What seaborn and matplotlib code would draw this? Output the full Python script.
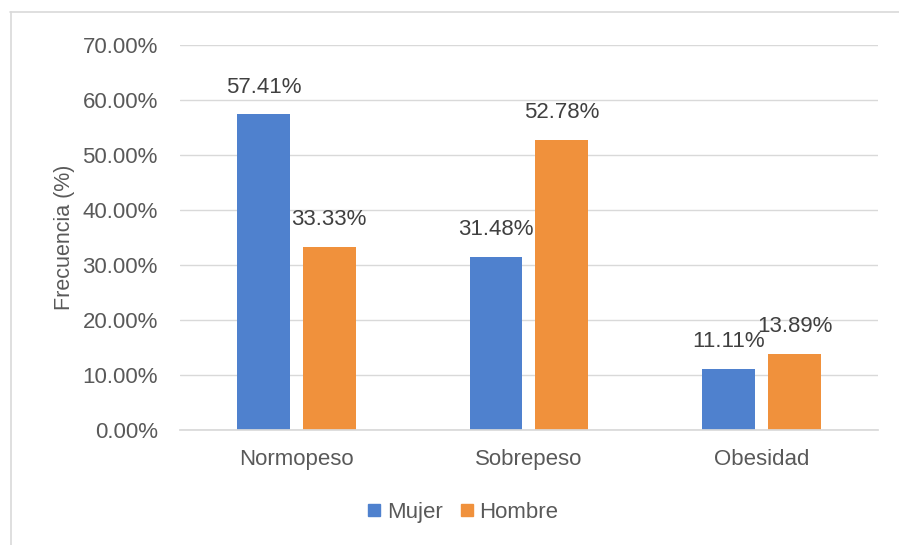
import matplotlib
matplotlib.use("Agg")
import matplotlib.pyplot as plt
from matplotlib.lines import Line2D
import seaborn as sns
import pandas as pd

categories = ["Normopeso", "Sobrepeso", "Obesidad"]
mujer = [57.41, 31.48, 11.11]
hombre = [33.33, 52.78, 13.89]
series_names = ["Mujer", "Hombre"]
colors = ["#4F81CE", "#F0913C"]

df = pd.DataFrame({
    "categoria": categories * 2,
    "sexo": [series_names[0]] * 3 + [series_names[1]] * 3,
    "valor": [v / 100 for v in mujer + hombre],
})

sns.set_theme(style="white")
plt.rcParams["font.family"] = ["Liberation Sans", "DejaVu Sans"]
text_color = "#595959"

fig = plt.figure(figsize=(8.99, 5.45), dpi=100)
ax = fig.add_axes([0.2002, 0.211, 0.7764, 0.7064])

sns.barplot(data=df, x="categoria", y="valor", hue="sexo",
            hue_order=series_names, order=categories,
            palette=colors, width=0.567, gap=0.197, ax=ax,
            legend=False, saturation=1, edgecolor="none")

ax.set_xlim(-0.5, 2.5)
ax.set_ylim(0, 0.70)
ax.set_yticks([i / 10 for i in range(8)])
ax.set_yticklabels([f"{i * 10:.2f}%" for i in range(8)])
ax.yaxis.grid(True, color="#D9D9D9", linewidth=1)
ax.set_axisbelow(True)
for s in ["top", "right", "left"]:
    ax.spines[s].set_visible(False)
ax.spines["bottom"].set_color("#D9D9D9")
ax.tick_params(axis="both", length=0, labelsize=16, colors=text_color)
ax.tick_params(axis="y", pad=16)
ax.tick_params(axis="x", pad=14)
ax.set_xlabel("")
ax.set_ylabel("Frecuencia (%)", fontsize=15.5, color=text_color, labelpad=5)

for cont in ax.containers:
    ax.bar_label(cont, labels=[f"{b.get_height() * 100:.2f}%" for b in cont],
                 padding=12, fontsize=16, color="#404040")

handles = [Line2D([0], [0], marker="s", linestyle="none", markersize=8,
                  markerfacecolor=c, markeredgecolor=c) for c in colors]
fig.legend(handles, series_names, loc="center", bbox_to_anchor=(0.515, 0.06),
           ncol=2, frameon=False, fontsize=16, labelcolor=text_color,
           handlelength=0.6, handletextpad=0.25, columnspacing=0.8)

# frame lines along the top and left of the figure
fig.add_artist(Line2D([10 / 899, 1], [1 - 11.5 / 545] * 2, color="#D9D9D9",
                      linewidth=1.2, transform=fig.transFigure))
fig.add_artist(Line2D([10.5 / 899] * 2, [0, 1 - 11.5 / 545], color="#D9D9D9",
                      linewidth=1.2, transform=fig.transFigure))

fig.savefig("out.png", dpi=100)
